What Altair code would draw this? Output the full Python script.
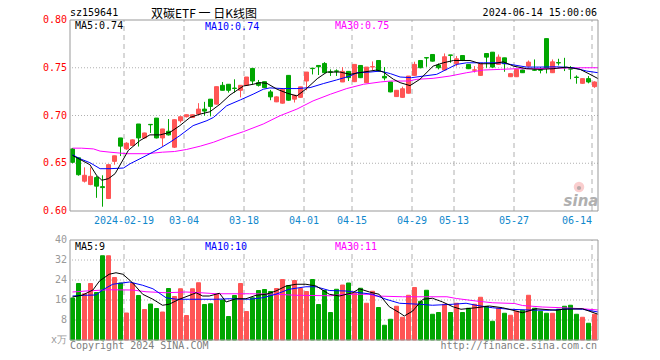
import altair as alt
import pandas as pd

MONO = "DejaVu Sans Mono"
CJK = "Noto Sans CJK SC"
RED = "#ff5555"
GREEN = "#00a600"
GRID = "#b0b0b0"
FRAME = "#999999"
XBLUE = "#1188cc"

# ---------------- data ----------------
opens = [0.665, 0.6557, 0.6312, 0.6277, 0.635, 0.6255, 0.6131, 0.652, 0.6765, 0.665,
         0.6686, 0.6911, 0.6765, 0.6907, 0.6973, 0.6765, 0.6835, 0.6668, 0.6945, 0.6987,
         0.698, 0.7015, 0.7067, 0.7171, 0.7119, 0.7316, 0.7327, 0.7287, 0.7264, 0.7316,
         0.7493, 0.7344, 0.7354, 0.7247, 0.7143, 0.7129, 0.742, 0.7171, 0.719, 0.7361,
         0.7495, 0.7524, 0.7545, 0.7457, 0.7467, 0.7351, 0.7462, 0.7354, 0.7524, 0.7344,
         0.7508, 0.7576, 0.741, 0.7351, 0.7198, 0.719, 0.7233, 0.742, 0.7576, 0.7606,
         0.7639, 0.7528, 0.7476, 0.7634, 0.7542, 0.7628, 0.7535, 0.7474, 0.742, 0.7649,
         0.7663, 0.7535, 0.7604, 0.7406, 0.7406, 0.7476, 0.7517, 0.7478, 0.7478, 0.7805,
         0.7448, 0.7554, 0.7502, 0.749, 0.7402, 0.7337, 0.7386, 0.7302]
closes = [0.651, 0.638, 0.6374, 0.6363, 0.626, 0.6245, 0.6485, 0.6578, 0.6679, 0.671,
          0.6745, 0.6765, 0.6817, 0.6903, 0.6765, 0.6859, 0.6797, 0.6956, 0.6987, 0.7008,
          0.7008, 0.7067, 0.7046, 0.7095, 0.7302, 0.7264, 0.7264, 0.7283, 0.7316, 0.7403,
          0.7361, 0.7316, 0.7292, 0.7195, 0.7195, 0.7275, 0.716, 0.7212, 0.73, 0.7455,
          0.7491, 0.751, 0.7448, 0.7453, 0.7463, 0.7462, 0.7396, 0.7535, 0.7396, 0.7507,
          0.7512, 0.7465, 0.7393, 0.7247, 0.7264, 0.728, 0.7413, 0.7535, 0.75, 0.7602,
          0.7569, 0.75, 0.7615, 0.763, 0.7594, 0.7576, 0.749, 0.7478, 0.7542, 0.7611,
          0.7507, 0.7611, 0.7542, 0.7438, 0.7483, 0.7448, 0.7559, 0.7474, 0.7474, 0.7493,
          0.7562, 0.755, 0.7498, 0.7486, 0.7398, 0.7386, 0.7351, 0.7351]
highs = [0.666, 0.656, 0.6457, 0.6457, 0.637, 0.6374, 0.6485, 0.6578, 0.6765, 0.672,
         0.675, 0.6911, 0.682, 0.6907, 0.6973, 0.686, 0.6963, 0.696, 0.699, 0.701,
         0.701, 0.7129, 0.7143, 0.7171, 0.7302, 0.7351, 0.7327, 0.7379, 0.7316, 0.7403,
         0.7493, 0.7372, 0.7354, 0.7268, 0.72, 0.7275, 0.742, 0.7215, 0.73, 0.7455,
         0.7495, 0.7528, 0.7559, 0.7483, 0.7483, 0.7507, 0.7462, 0.7535, 0.7524, 0.7507,
         0.7566, 0.7576, 0.7507, 0.7351, 0.7264, 0.7302, 0.7413, 0.7563, 0.7576, 0.7606,
         0.7639, 0.7545, 0.765, 0.7634, 0.7622, 0.7628, 0.7535, 0.7517, 0.7542, 0.7649,
         0.7663, 0.7639, 0.7604, 0.744, 0.7483, 0.748, 0.7576, 0.7587, 0.7507, 0.7805,
         0.7587, 0.7594, 0.7604, 0.7517, 0.742, 0.7386, 0.7413, 0.7358]
lows = [0.650, 0.637, 0.6298, 0.627, 0.6138, 0.6045, 0.6125, 0.6485, 0.6575, 0.664,
        0.6686, 0.6675, 0.676, 0.6817, 0.676, 0.6679, 0.679, 0.666, 0.6925, 0.698,
        0.6975, 0.7015, 0.6998, 0.6991, 0.7115, 0.7264, 0.724, 0.724, 0.719, 0.7316,
        0.7327, 0.7303, 0.729, 0.716, 0.714, 0.7125, 0.7155, 0.7136, 0.7185, 0.7264,
        0.743, 0.7424, 0.7445, 0.7414, 0.7414, 0.735, 0.7361, 0.735, 0.7392, 0.734,
        0.7476, 0.746, 0.7368, 0.7243, 0.7195, 0.7185, 0.723, 0.7415, 0.7495, 0.751,
        0.7565, 0.7483, 0.7472, 0.7552, 0.7514, 0.757, 0.7486, 0.745, 0.7415, 0.75,
        0.75, 0.753, 0.7458, 0.7403, 0.7403, 0.7445, 0.7514, 0.7469, 0.7441, 0.7441,
        0.7445, 0.7524, 0.7465, 0.738, 0.7333, 0.7333, 0.7337, 0.729]
# R = up (red), G = down (green)
dirs = ["G", "G", "R", "R", "G", "G", "R", "R", "G", "R",
        "R", "G", "R", "G", "G", "R", "G", "R", "R", "R",
        "R", "R", "G", "G", "R", "G", "G", "G", "R", "R",
        "G", "G", "G", "G", "R", "R", "G", "R", "R", "R",
        "G", "G", "G", "G", "G", "R", "G", "R", "G", "R",
        "R", "G", "G", "G", "R", "R", "R", "R", "G", "G",
        "G", "G", "R", "G", "R", "G", "G", "R", "R", "G",
        "G", "R", "G", "R", "R", "G", "R", "G", "G", "G",
        "R", "G", "G", "G", "G", "R", "G", "R"]
volumes = [16.8, 22.6, 18.5, 22.6, 19.0, 33.7, 33.7, 25.0, 22.8, 10.8,
           22.7, 17.8, 12.2, 14.4, 12.6, 11.2, 20.6, 17.4, 20.5, 9.8,
           20.5, 22.9, 14.2, 14.5, 18.3, 16.0, 9.4, 17.8, 22.6, 11.4,
           16.9, 19.8, 20.2, 19.4, 20.6, 24.2, 21.8, 23.8, 20.6, 19.4,
           24.2, 14.2, 19.8, 11.0, 20.3, 22.0, 22.8, 18.9, 20.7, 14.7,
           19.5, 13.0, 5.9, 8.3, 13.5, 9.1, 17.9, 21.0, 15.5, 19.9,
           10.3, 11.0, 14.3, 11.0, 14.7, 11.0, 12.7, 14.3, 17.1, 13.5,
           7.5, 12.7, 10.7, 9.9, 11.5, 11.9, 17.9, 12.7, 11.5, 10.7,
           10.7, 12.3, 13.5, 13.9, 10.3, 9.1, 6.7, 10.3]

tick_idx = [9, 19, 29, 39, 47, 57, 64, 74, 87]
tick_lab = ["2024-02-19", "03-04", "03-18", "04-01", "04-15", "04-29", "05-13", "05-27", "06-14"]
price_ticks = [0.60, 0.65, 0.70, 0.75, 0.80]
vol_ticks = [0, 8, 16, 24, 32, 40]
vol_tick_lab = ["x万", "8", "16", "24", "32", "40"]

# moving-average lines (bar index, value)
ma5_k = [0, 1.25, 2.9, 4, 4.9, 6, 7.1, 8.2, 9.3, 11.25, 12.9, 14.6, 16.25, 17.9, 19.6, 21.3, 22.9,
         24.6, 26.25, 28.5, 30.1, 31.25, 32.4, 34.1, 35.8, 37.4, 39, 40.8, 42.4, 44.6, 46.25, 48.5,
         50.7, 51.8, 53.5, 54.6, 56.25, 57.9, 60.1, 61.8, 63.5, 66.25, 68, 70.1, 71.8, 73.5, 75.7,
         77.9, 80.1, 82.3, 84.6, 86.25, 87.6]
ma5_p = [0.6582, 0.654, 0.6485, 0.6374, 0.6322, 0.6339, 0.6391, 0.6512, 0.6634, 0.6738, 0.6797,
         0.6797, 0.6824, 0.6894, 0.698, 0.7015, 0.7039, 0.7119, 0.7215, 0.7309, 0.7327, 0.7344,
         0.7337, 0.7275, 0.7233, 0.7205, 0.7282, 0.7386, 0.7455, 0.7455, 0.7431, 0.7455, 0.7476,
         0.7455, 0.7379, 0.7344, 0.7313, 0.7379, 0.7517, 0.7552, 0.7576, 0.7576, 0.7542, 0.7542,
         0.7562, 0.7517, 0.749, 0.7483, 0.749, 0.7507, 0.7483, 0.7431, 0.7386]
ma10_k = [0, 1.25, 2.9, 4.6, 6.25, 8.5, 9.6, 11.25, 12.9, 14.6, 16.25, 17.9, 20.1, 22.4, 23.5,
          25.7, 28, 30.1, 31.8, 32.9, 35.1, 37.4, 39.6, 41.8, 44, 46.25, 47.4, 49.6, 51.3, 53,
          54.6, 56.5, 58.5, 60.7, 64, 65.7, 68.5, 71.3, 73, 75.7, 77.9, 80.7, 83.5, 85.7, 87.6]
ma10_p = [0.6589, 0.6547, 0.6506, 0.6443, 0.6443, 0.645, 0.6495, 0.6547, 0.66, 0.6658, 0.672,
          0.679, 0.6894, 0.6946, 0.698, 0.7102, 0.7164, 0.7223, 0.7275, 0.7289, 0.7282, 0.7282,
          0.7292, 0.7334, 0.7372, 0.7413, 0.7448, 0.7455, 0.7465, 0.7438, 0.7403, 0.7396, 0.7413,
          0.7431, 0.7535, 0.7552, 0.7552, 0.7552, 0.7535, 0.7507, 0.7507, 0.751, 0.75, 0.7465,
          0.7448]
ma30_k = [0, 1.5, 3.5, 4.6, 6.25, 9, 12.4, 15, 17, 19, 21.3, 23.5, 25.7, 28.5, 31.8, 34.6, 37.4,
          40.1, 43, 45.7, 48.5, 51.3, 53, 56, 57.4, 60.1, 62.9, 65.7, 68.5, 71.3, 74, 76.8, 79.6,
          82.3, 85, 87.6]
ma30_p = [0.6658, 0.6658, 0.665, 0.6627, 0.6616, 0.66, 0.66, 0.6616, 0.6623, 0.6644, 0.6679,
          0.672, 0.6772, 0.6831, 0.6911, 0.6998, 0.7067, 0.7153, 0.7223, 0.7282, 0.7327, 0.7351,
          0.7361, 0.7361, 0.7379, 0.7389, 0.7413, 0.7448, 0.7476, 0.7483, 0.749, 0.749, 0.7493,
          0.7497, 0.75, 0.75]

vma5_k = [0, 1.7, 3.4, 4.5, 6.1, 7.25, 8.4, 10, 11.7, 13.4, 15, 16.1, 17.8, 20, 20.6, 21.7, 22.8,
          24.5, 25.6, 27.25, 28.9, 30.6, 32.3, 33.9, 35.6, 37.25, 38.9, 40.6, 42.8, 44.5, 46.7,
          47.8, 49.5, 51.1, 52.8, 54.5, 55.3, 56.7, 58.4, 60, 61.7, 63.4, 64.75, 67.25, 69.5,
          71.7, 73.9, 75, 77.25, 80.6, 81.7, 85, 87.6]
vma5_v = [17.2, 18, 20, 23.6, 26.3, 26.9, 26.3, 22.9, 18.3, 16.3, 13.9, 14.3, 16.3, 18.3, 18.9,
          17.6, 17.6, 18.7, 15.2, 16.5, 16.5, 17.9, 18.3, 19.6, 21.6, 22.3, 22.3, 21.6, 18.3,
          17.6, 18.9, 20.5, 19.2, 18.3, 13.3, 10.9, 9.6, 11.6, 16.3, 16.7, 15.2, 13.3, 12.3, 12.9,
          13.6, 12.9, 11.6, 10.9, 12.5, 11.9, 12.3, 12.5, 10.3]
vma10_k = [0, 2, 3.9, 5, 6.7, 9.5, 11.7, 13.4, 15.6, 17.3, 19.5, 24, 26.1, 29.5, 31.7, 33.9,
           36.1, 38.9, 40.6, 42.8, 45.6, 50, 52.25, 54.5, 57.8, 60, 63.4, 65.6, 67.25, 70, 72.8,
           76.1, 79.5, 82.8, 85, 87.6]
vma10_v = [17.6, 17.9, 18, 20, 22.3, 23.2, 21.9, 20.5, 16.9, 16.3, 16.3, 16.3, 16.5, 16.3, 16.9,
           18.3, 20.3, 21.3, 21.3, 19.8, 19.6, 18.3, 16.3, 14.7, 14.3, 13.9, 14.3, 14.7, 13.9,
           12.9, 12.3, 12, 11.9, 12.5, 12.3, 11.2]
vma30_k = [0, 2.25, 6, 10, 12.25, 15.6, 18.9, 21.4, 24, 29.5, 34, 37.25, 43, 45.5, 49.4, 50.5,
           55, 62.4, 64, 67.25, 70, 73.7, 75, 78.3, 81.7, 85, 87.6]
vma30_v = [19.2, 19.6, 20.1, 20, 19.3, 18.9, 19.2, 18.9, 18.5, 18.5, 18.3, 17.9, 17.7, 18.3,
           18.3, 17.6, 17.3, 17.3, 16.6, 15.6, 14.9, 14.6, 13.8, 13.2, 12.9, 12.5, 12.0]

# ---------------- tables ----------------
N = len(opens)
bars = pd.DataFrame({"k": list(range(N)), "open": opens, "close": closes, "high": highs,
                     "low": lows, "dir": dirs, "vol": volumes})
bars["x1"] = bars["k"] + 1 / 12
bars["x2"] = bars["k"] + 9 / 12
bars["xc"] = bars["k"] + 5 / 12
bars["zero"] = 0.0

xs = alt.Scale(domain=[0, N], nice=False, zero=False)
ps = alt.Scale(domain=[0.60, 0.80], range=[191, 0], nice=False, zero=False)
vs = alt.Scale(domain=[0, 40], range=[320, 220], nice=False, zero=False)
col = alt.Color("dir:N", scale=alt.Scale(domain=["R", "G"], range=[RED, GREEN]), legend=None)
stk = alt.Stroke("dir:N", scale=alt.Scale(domain=["R", "G"], range=[RED, GREEN]), legend=None)

one = pd.DataFrame({"a": [0]})


def ma_df(ks, vals):
    d = pd.DataFrame({"k": ks, "v": vals})
    d["x"] = d["k"] + 5 / 12
    return d


def txt(s, px, py, color="#000000", size=10, font=MONO, align="left", **kw):
    return alt.Chart(one).mark_text(text=s, align=align, baseline="middle", font=font,
                                    fontSize=size, color=color, **kw).encode(
        x=alt.value(px), y=alt.value(py))


vgrid = pd.DataFrame({"t": tick_idx, "lab": tick_lab})
vgrid["p0"] = 0.60
vgrid["p1"] = 0.80
vgrid["v0"] = 0.0
vgrid["v1"] = 40.0
hgrid_p = pd.DataFrame({"p": price_ticks})
hgrid_v = pd.DataFrame({"v": vol_ticks, "lab": vol_tick_lab})
frame = pd.DataFrame({"x0": [0], "x1": [N], "p0": [0.60], "p1": [0.80], "v0": [0.0], "v1": [40.0]})

# ---------------- price panel ----------------
p_hgrid = alt.Chart(hgrid_p).transform_filter("datum.p > 0.61 && datum.p < 0.79").mark_rule(
    color=GRID, strokeDash=[1, 2], strokeWidth=1).encode(
    y=alt.Y("p:Q", scale=ps, axis=None))
p_ylab = alt.Chart(hgrid_p).mark_text(align="right", baseline="middle", font=MONO, fontSize=10,
                                      color="#ff0000").encode(
    y=alt.Y("p:Q", scale=ps, axis=None), x=alt.value(-3), text=alt.Text("p:Q", format=".2f"))
p_vgrid = alt.Chart(vgrid).mark_rule(color=GRID, strokeDash=[5, 4], strokeWidth=1).encode(
    x=alt.X("t:Q", scale=xs, axis=None), y=alt.Y("p0:Q", scale=ps, axis=None), y2="p1:Q")
x_lab_mid = alt.Chart(vgrid).transform_filter(f"datum.t < {tick_idx[-1]}").mark_text(
    align="center", baseline="middle", font=MONO, fontSize=10, color=XBLUE).encode(
    x=alt.X("t:Q", scale=xs, axis=None), y=alt.value(201), text="lab:N")
x_lab_end = alt.Chart(vgrid).transform_filter(f"datum.t == {tick_idx[-1]}").mark_text(
    align="right", baseline="middle", font=MONO, fontSize=10, color=XBLUE).encode(
    x=alt.X("t:Q", scale=xs, axis=None), y=alt.value(201), text="lab:N")
wicks = alt.Chart(bars).mark_rule(strokeWidth=1).encode(
    x=alt.X("xc:Q", scale=xs, axis=None), y=alt.Y("low:Q", scale=ps, axis=None), y2="high:Q",
    color=col)
bodies = alt.Chart(bars).mark_rect(strokeWidth=1).encode(
    x=alt.X("x1:Q", scale=xs, axis=None), x2="x2:Q",
    y=alt.Y("open:Q", scale=ps, axis=None), y2="close:Q", color=col, stroke=stk)


def pline(ks, vals, color):
    return alt.Chart(ma_df(ks, vals)).mark_line(color=color, strokeWidth=1).encode(
        x=alt.X("x:Q", scale=xs, axis=None), y=alt.Y("v:Q", scale=ps, axis=None), order="k:Q")


p_frame = alt.Chart(frame).mark_rect(fillOpacity=0, stroke=FRAME, strokeWidth=1).encode(
    x=alt.X("x0:Q", scale=xs, axis=None), x2="x1:Q",
    y=alt.Y("p0:Q", scale=ps, axis=None), y2="p1:Q")

price = alt.layer(p_hgrid, p_vgrid, p_ylab, x_lab_mid, x_lab_end, wicks, bodies,
                  pline(ma30_k, ma30_p, "#ff00ff"), pline(ma10_k, ma10_p, "#0000ff"),
                  pline(ma5_k, ma5_p, "#000000"), p_frame)

# ---------------- volume panel ----------------
v_hgrid = alt.Chart(hgrid_v).transform_filter("datum.v > 1 && datum.v < 39").mark_rule(
    color=GRID, strokeDash=[1, 2], strokeWidth=1).encode(
    y=alt.Y("v:Q", scale=vs, axis=None))
v_ylab = alt.Chart(hgrid_v).mark_text(align="right", baseline="middle", font=MONO, fontSize=10,
                                      color="#999999").encode(
    y=alt.Y("v:Q", scale=vs, axis=None), x=alt.value(-3), text="lab:N")
v_vgrid = alt.Chart(vgrid).mark_rule(color=GRID, strokeDash=[5, 4], strokeWidth=1).encode(
    x=alt.X("t:Q", scale=xs, axis=None), y=alt.Y("v0:Q", scale=vs, axis=None), y2="v1:Q")
vbars = alt.Chart(bars).mark_rect(strokeWidth=1).encode(
    x=alt.X("x1:Q", scale=xs, axis=None), x2="x2:Q",
    y=alt.Y("vol:Q", scale=vs, axis=None), y2="zero:Q", color=col, stroke=stk)


def vline(ks, vals, color):
    return alt.Chart(ma_df(ks, vals)).mark_line(color=color, strokeWidth=1).encode(
        x=alt.X("x:Q", scale=xs, axis=None), y=alt.Y("v:Q", scale=vs, axis=None), order="k:Q")


v_frame = alt.Chart(frame).mark_rect(fillOpacity=0, stroke=FRAME, strokeWidth=1).encode(
    x=alt.X("x0:Q", scale=xs, axis=None), x2="x1:Q",
    y=alt.Y("v0:Q", scale=vs, axis=None), y2="v1:Q")

volume = alt.layer(v_hgrid, v_vgrid, v_ylab, vbars,
                   vline(vma30_k, vma30_v, "#ff00ff"), vline(vma10_k, vma10_v, "#0000ff"),
                   vline(vma5_k, vma5_v, "#000000"), v_frame)

# ---------------- texts ----------------
logo_eye = alt.Chart(one).mark_point(filled=True, size=110, color="#f5a5a5", opacity=0.55).encode(
    x=alt.value(509), y=alt.value(167))
logo_pupil = alt.Chart(one).mark_point(filled=True, size=18, color="#9a9a9a", opacity=0.7).encode(
    x=alt.value(509), y=alt.value(168))
logo_word = alt.Chart(one).mark_text(text="sina", align="center", baseline="middle",
                                     font="DejaVu Sans", fontSize=15, fontStyle="italic",
                                     fontWeight="bold", color="#b0b0b0").encode(
    x=alt.value(511), y=alt.value(181))

texts = [
    txt("sz159641", 0, -7),
    txt("双碳ETF 一 日K线图", 81, -6, size=12, font=CJK),
    txt("2024-06-14 15:00:06", 527, -7, align="right"),
    txt("MA5:0.74", 5, 6),
    txt("MA10:0.74", 135, 7, color="#0000ff"),
    txt("MA30:0.75", 265, 6, color="#ff00ff"),
    txt("MA5:9", 5, 227),
    txt("MA10:10", 135, 227, color="#0000ff"),
    txt("MA30:11", 265, 227, color="#ff00ff"),
    txt("Copyright 2024 SINA.COM", 0, 326, color="#808080"),
    txt("http://finance.sina.com.cn", 527, 326, color="#808080", align="right"),
    logo_eye, logo_pupil, logo_word,
]

chart = alt.layer(price, volume, *texts).resolve_scale(y="independent").properties(
    width=528, height=320,
    autosize=alt.AutoSizeParams(type="none"),
    padding={"left": 62, "top": 12, "right": 54, "bottom": 12},
).configure_view(stroke="transparent")

chart.save("out.html", embed_options={"renderer": "svg", "actions": False})
